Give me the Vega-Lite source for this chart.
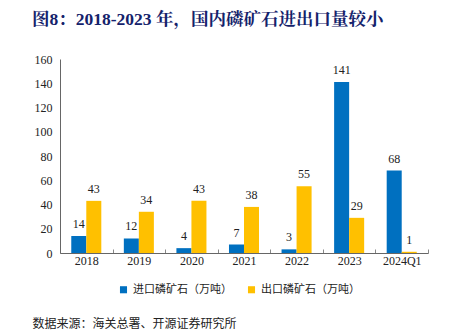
{
  "$schema": "https://vega.github.io/schema/vega-lite/v6.json",
  "width": 368,
  "height": 194,
  "autosize": {"type": "none"},
  "padding": {"left": 60, "top": 59, "right": 26, "bottom": 83},
  "background": "white",
  "config": {"view": {"stroke": null}},
  "title": {
    "text": "图8：2018-2023 年，国内磷矿石进出口量较小",
    "anchor": "start",
    "frame": "group",
    "dx": -28,
    "offset": 25,
    "font": "Liberation Serif, Noto Serif CJK SC, Noto Sans CJK SC",
    "fontSize": 17.5,
    "fontWeight": "bold",
    "color": "#14226b"
  },
  "data": {
    "values": [
      {"year": "2018", "series": "进口磷矿石（万吨）", "value": 14},
      {"year": "2018", "series": "出口磷矿石（万吨）", "value": 43},
      {"year": "2019", "series": "进口磷矿石（万吨）", "value": 12},
      {"year": "2019", "series": "出口磷矿石（万吨）", "value": 34},
      {"year": "2020", "series": "进口磷矿石（万吨）", "value": 4},
      {"year": "2020", "series": "出口磷矿石（万吨）", "value": 43},
      {"year": "2021", "series": "进口磷矿石（万吨）", "value": 7},
      {"year": "2021", "series": "出口磷矿石（万吨）", "value": 38},
      {"year": "2022", "series": "进口磷矿石（万吨）", "value": 3},
      {"year": "2022", "series": "出口磷矿石（万吨）", "value": 55},
      {"year": "2023", "series": "进口磷矿石（万吨）", "value": 141},
      {"year": "2023", "series": "出口磷矿石（万吨）", "value": 29},
      {"year": "2024Q1", "series": "进口磷矿石（万吨）", "value": 68},
      {"year": "2024Q1", "series": "出口磷矿石（万吨）", "value": 1}
    ]
  },
  "encoding": {
    "x": {
      "field": "year",
      "type": "nominal",
      "sort": null,
      "scale": {"paddingInner": 0, "paddingOuter": 0},
      "axis": {
        "title": "数据来源：海关总署、开源证券研究所",
        "titleFont": "Noto Sans CJK SC",
        "titleFontSize": 12,
        "titleFontWeight": "normal",
        "titleColor": "#222",
        "titleAlign": "left",
        "titleBaseline": "middle",
        "titleAnchor": "start",
        "titleX": -28,
        "titleY": 70,
        "labelAngle": 0,
        "labelFont": "Liberation Serif",
        "labelFontSize": 12,
        "labelColor": "#222",
        "labelPadding": 6,
        "tickBand": "extent",
        "tickSize": -4,
        "tickColor": "#888",
        "domainColor": "#666",
        "grid": false
      }
    },
    "xOffset": {
      "field": "series",
      "type": "nominal",
      "sort": ["进口磷矿石（万吨）", "出口磷矿石（万吨）"],
      "scale": {"paddingInner": 0, "paddingOuter": 0.75}
    },
    "y": {
      "field": "value",
      "type": "quantitative",
      "scale": {"domain": [0, 160]},
      "axis": {
        "title": null,
        "values": [0, 20, 40, 60, 80, 100, 120, 140, 160],
        "grid": false,
        "ticks": false,
        "labelFont": "Liberation Serif",
        "labelFontSize": 12,
        "labelColor": "#222",
        "labelPadding": 8,
        "domainColor": "#666"
      }
    }
  },
  "layer": [
    {
      "mark": {"type": "bar"},
      "encoding": {
        "color": {
          "field": "series",
          "type": "nominal",
          "sort": ["进口磷矿石（万吨）", "出口磷矿石（万吨）"],
          "scale": {"range": ["#0070C0", "#FFC000"]},
          "legend": {
            "title": null,
            "orient": "none",
            "direction": "horizontal",
            "legendX": 58,
            "legendY": 225,
            "symbolType": "square",
            "symbolSize": 50,
            "symbolStrokeWidth": 0,
            "labelFont": "Noto Sans CJK SC",
            "labelFontSize": 11,
            "labelColor": "#222",
            "columnPadding": 14,
            "labelOffset": 4
          }
        }
      }
    },
    {
      "mark": {
        "type": "text",
        "baseline": "bottom",
        "dy": -5,
        "font": "Liberation Serif",
        "fontSize": 12,
        "color": "#222"
      },
      "encoding": {
        "text": {"field": "value", "type": "quantitative"}
      }
    }
  ]
}
